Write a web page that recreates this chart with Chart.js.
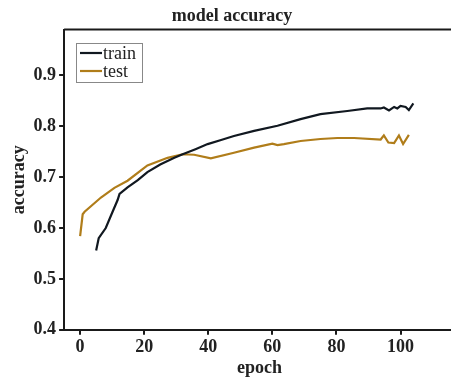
<!DOCTYPE html>
<html>
<head>
<meta charset="utf-8">
<script src="https://cdn.jsdelivr.net/npm/chart.js@4.4.1/dist/chart.umd.min.js"></script>
<style>
html,body{margin:0;padding:0;background:#fff;overflow:hidden;width:451px;height:381px;}
#wrap{position:absolute;left:0;top:0;width:480px;height:381px;}
</style>
</head>
<body>
<div id="wrap"><canvas id="c" width="480" height="381"></canvas></div>
<script>
const trainEpochs = [5, 5.8, 8, 10, 11.7, 12.3, 14.8, 18, 21, 25, 29.4, 32, 36, 39.8, 44, 48, 54.3, 61.6, 68.8, 75, 83.4, 89.6, 93.8, 94.8, 96.4, 98, 99, 100, 101.6, 102.6, 104];
const trainAcc    = [0.556, 0.580, 0.600, 0.630, 0.655, 0.667, 0.680, 0.694, 0.710, 0.725, 0.738, 0.745, 0.755, 0.765, 0.773, 0.781, 0.791, 0.801, 0.814, 0.824, 0.830, 0.835, 0.835, 0.837, 0.831, 0.838, 0.835, 0.840, 0.838, 0.832, 0.845];
const testEpochs  = [0, 0.8, 1.4, 6.5, 10.7, 14.8, 21, 27.3, 32, 35.6, 40.8, 48, 54.3, 60, 61.6, 63.6, 68.8, 75, 80.3, 85.5, 93.8, 94.8, 96.2, 98, 99.5, 100.8, 102.6];
const testAcc     = [0.584, 0.627, 0.632, 0.660, 0.679, 0.693, 0.723, 0.738, 0.745, 0.744, 0.737, 0.748, 0.758, 0.766, 0.763, 0.765, 0.771, 0.775, 0.777, 0.777, 0.774, 0.782, 0.768, 0.767, 0.782, 0.765, 0.783];
const yTicks = [0.4, 0.5, 0.6, 0.7, 0.8, 0.9];
const xTicks = [0, 20, 40, 60, 80, 100];

const serif = "'Liberation Serif', 'DejaVu Serif', serif";
const axisColor = '#1a1a1a';

const frameLegend = {
  id: 'frameLegend',
  afterDraw(chart) {
    const ctx = chart.ctx, a = chart.chartArea;
    ctx.save();
    ctx.strokeStyle = axisColor; ctx.lineWidth = 2;
    ctx.beginPath(); ctx.moveTo(a.left, a.top); ctx.lineTo(a.right, a.top); ctx.stroke();
    const bx = 76, by = 43, bw = 66, bh = 39;
    ctx.fillStyle = '#fff'; ctx.fillRect(bx, by, bw, bh);
    ctx.strokeStyle = '#888'; ctx.lineWidth = 1;
    ctx.strokeRect(bx + 0.5, by + 0.5, bw, bh);
    ctx.font = "18px " + serif; ctx.textBaseline = 'middle'; ctx.textAlign = 'left';
    chart.data.datasets.forEach((ds, i) => {
      const y = by + 10 + i * 18;
      ctx.strokeStyle = ds.borderColor; ctx.lineWidth = 2.2;
      ctx.beginPath(); ctx.moveTo(bx + 4, y); ctx.lineTo(bx + 26, y); ctx.stroke();
      ctx.fillStyle = '#222';
      ctx.fillText(ds.label, bx + 27, y + 1);
    });
    ctx.restore();
  }
};

new Chart(document.getElementById('c'), {
  type: 'line',
  data: {
    datasets: [
      { label: 'train', data: trainEpochs.map((e, i) => ({x: e, y: trainAcc[i]})),
        borderColor: '#111820', borderWidth: 2.2, pointRadius: 0, tension: 0, fill: false },
      { label: 'test', data: testEpochs.map((e, i) => ({x: e, y: testAcc[i]})),
        borderColor: '#b07d1a', borderWidth: 2.2, pointRadius: 0, tension: 0, fill: false }
    ]
  },
  options: {
    responsive: false, animation: false,
    layout: { padding: { left: 9, right: 25, top: 0, bottom: 2 } },
    plugins: {
      legend: { display: false },
      tooltip: { enabled: false },
      title: { display: true, text: 'model accuracy', color: '#222',
        font: { family: serif, size: 18, weight: 'bold' }, padding: { top: 6, bottom: 2 } }
    },
    scales: {
      x: {
        type: 'linear', min: -5, max: 117,
        afterBuildTicks: s => { s.ticks = xTicks.map(v => ({ value: v })); },
        ticks: { color: '#222', font: { family: serif, size: 18, weight: 'bold' }, padding: 2, maxRotation: 0 },
        grid: { drawOnChartArea: false, drawTicks: true, tickLength: 5, color: axisColor, lineWidth: 2 },
        border: { display: true, color: axisColor, width: 2 },
        title: { display: true, text: 'epoch', color: '#222', font: { family: serif, size: 18, weight: 'bold' }, padding: { top: -3, bottom: 0 } }
      },
      y: {
        type: 'linear', min: 0.4, max: 0.99,
        afterBuildTicks: s => { s.ticks = yTicks.map(v => ({ value: v })); },
        ticks: { color: '#222', font: { family: serif, size: 18, weight: 'bold' }, padding: 3,
          callback: v => v.toFixed(1) },
        grid: { drawOnChartArea: false, drawTicks: true, tickLength: 5, color: axisColor, lineWidth: 2 },
        border: { display: true, color: axisColor, width: 2 },
        title: { display: true, text: 'accuracy', color: '#222', font: { family: serif, size: 18, weight: 'bold' }, padding: { top: 0, bottom: 0 } }
      }
    }
  },
  plugins: [frameLegend]
});
</script>
</body>
</html>
